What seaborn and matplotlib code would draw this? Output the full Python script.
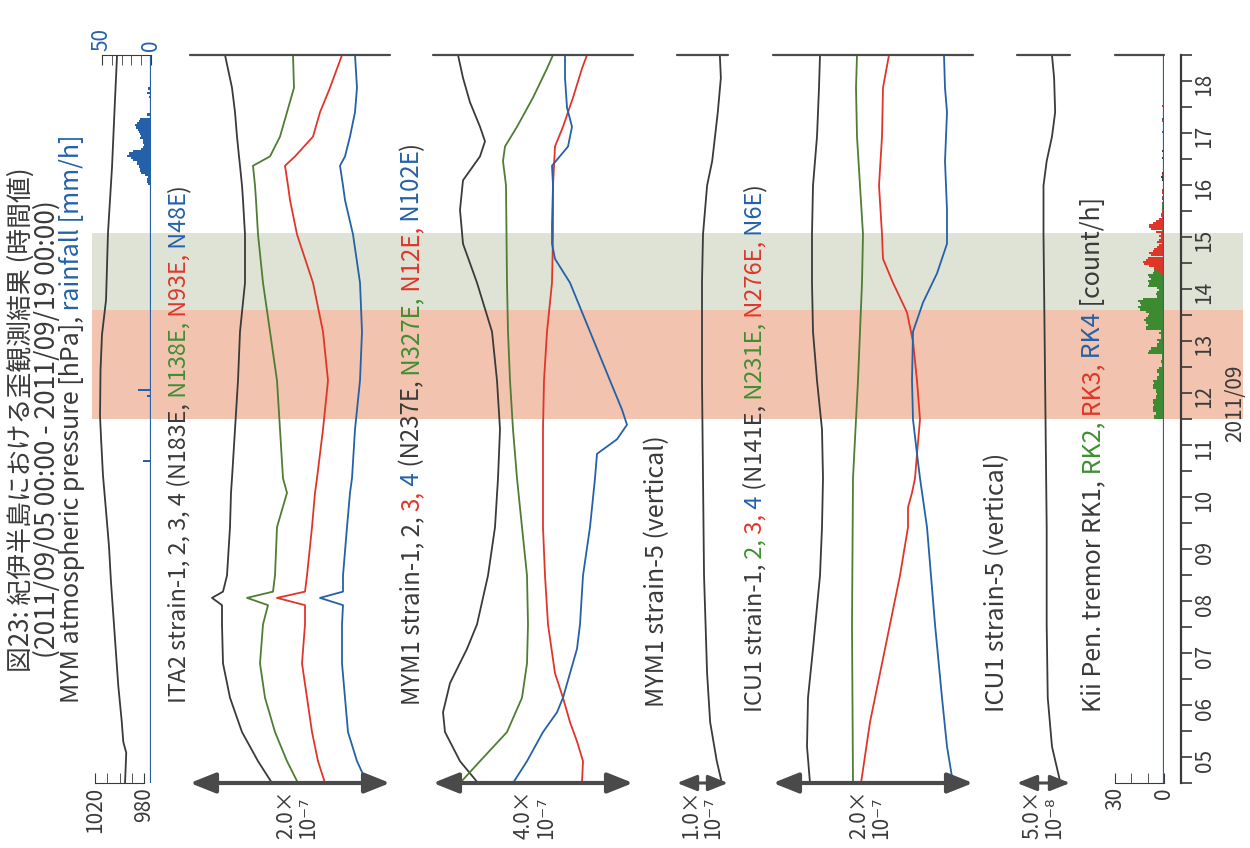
import matplotlib
matplotlib.use("Agg")
import matplotlib.pyplot as plt
import numpy as np
import seaborn as sns

sns.set_style("ticks")
plt.rcParams["font.family"] = ["Noto Sans CJK JP", "DejaVu Sans"]

W, H = 1250, 848
Y0, Y1 = 783, 55          # pixel rows of 09/05 00:00 and 09/19 00:00
K, G, R, B = "#3a3a3a", "#4f7d34", "#e0362a", "#2461a8"
GT = "#3f8f33"            # green used in text
AX = "#4a4a4a"

# ---- data (time in days since 2011/09/05 00:00) ----
day_labels = ["05", "06", "07", "08", "09", "10", "11", "12", "13", "14", "15", "16", "17", "18"]

pres_t = [0.0, 0.58, 0.79, 1.19, 1.87, 2.54, 3.21, 3.88, 4.56, 5.23, 5.92, 6.60, 7.06, 7.94, 8.62, 9.29, 10.58, 11.85, 13.13, 14.0]
pres_hpa = [995.5, 994.5, 996.9, 998.2, 1001.0, 1003.0, 1005.0, 1007.0, 1008.6, 1011.0, 1013.5, 1015.0, 1015.9, 1015.5, 1014.3, 1011.0, 1009.4, 1006.1, 1003.7, 1002.0]

# hourly rainfall, hour index since 09/05 00:00
rain_h = [148, 178, 181] + list(range(276, 307)) + [308, 316, 318, 320]
rain_mm = [8, 4, 13, 3, 4, 4, 3, 6, 10, 11, 11, 12, 14, 14, 18, 20, 24, 22, 18, 10, 8, 7, 8, 8,
           11, 10, 11, 12, 13, 15, 16, 14, 12, 11, 4, 2, 4, 3]

# ITA2 strain (x1e-7)
ita_t = [0, 0.42, 0.98, 1.64, 2.30, 3.05, 3.42, 3.56, 3.68, 3.99, 4.92, 5.58, 5.86, 6.80, 7.74, 8.68,
         9.62, 10.55, 11.21, 11.49, 11.87, 12.05, 12.43, 12.90, 13.37, 14.0]
ita_1 = [0.82, 0.68, 0.52, 0.40, 0.33, 0.32, 0.32, 0.22, 0.33, 0.37, 0.40, 0.41, 0.42, 0.45, 0.48, 0.50,
         0.55, 0.55, 0.53, 0.52, 0.50, 0.49, 0.47, 0.45, 0.42, 0.35]
ita_2 = [1.08, 0.97, 0.85, 0.75, 0.70, 0.73, 0.78, 0.57, 0.83, 0.85, 0.87, 0.97, 0.93, 0.90, 0.87, 0.80,
         0.73, 0.68, 0.66, 0.65, 0.63, 0.80, 0.90, 0.97, 1.04, 1.03]
ita_3 = [1.35, 1.28, 1.22, 1.17, 1.12, 1.15, 1.15, 0.87, 1.15, 1.17, 1.22, 1.25, 1.27, 1.33, 1.38, 1.33,
         1.23, 1.07, 1.00, 0.98, 0.95, 1.05, 1.23, 1.30, 1.40, 1.52]
ita_4 = [1.77, 1.67, 1.58, 1.55, 1.52, 1.52, 1.53, 1.30, 1.53, 1.53, 1.57, 1.60, 1.62, 1.65, 1.70, 1.72,
         1.70, 1.63, 1.55, 1.53, 1.50, 1.55, 1.60, 1.65, 1.67, 1.65]

# MYM1 strain (x1e-7)
mym1_t = [0, 0.42, 0.98, 1.36, 1.92, 2.58, 3.05, 3.99, 4.92, 5.86, 6.80, 7.74, 8.68, 9.62, 10.37, 11.02,
          11.59, 12.05, 12.34, 12.62, 13.09, 13.56, 14.0]
mym1_1 = [0.90, 0.54, 0.24, 0.20, 0.34, 0.68, 0.88, 1.10, 1.24, 1.30, 1.34, 1.28, 1.18, 0.88, 0.60, 0.54,
          0.60, 0.94, 1.04, 0.94, 0.74, 0.60, 0.50]
mym2_t = [0, 0.42, 0.98, 1.64, 2.30, 3.05, 3.99, 4.92, 5.86, 6.80, 7.74, 8.68, 9.62, 10.55, 11.49, 11.96,
          12.24, 12.62, 13.18, 13.74, 14.0]
mym1_2 = [0.54, 0.94, 1.48, 1.78, 1.88, 1.90, 1.88, 1.78, 1.68, 1.60, 1.54, 1.50, 1.48, 1.47, 1.46, 1.40,
          1.44, 1.68, 2.00, 2.28, 2.40]
mym3_t = [0, 0.42, 0.80, 1.17, 1.64, 2.11, 3.05, 3.99, 4.92, 6.80, 7.74, 8.68, 9.62, 10.55, 11.49, 12.24,
          12.62, 13.18, 13.74, 14.0]
mym1_3 = [2.98, 3.00, 2.88, 2.74, 2.60, 2.44, 2.30, 2.24, 2.20, 2.20, 2.22, 2.28, 2.38, 2.40, 2.40, 2.44,
          2.60, 2.80, 2.98, 3.08]
mym4_t = [0, 0.42, 0.98, 1.36, 1.64, 2.11, 2.58, 3.05, 3.99, 4.92, 5.86, 6.33, 6.61, 6.89, 7.18, 7.74,
          8.68, 9.62, 10.08, 10.37, 10.74, 11.49, 11.87, 12.24, 12.62, 12.99, 13.56, 14.0]
mym1_4 = [1.60, 1.88, 2.20, 2.48, 2.60, 2.74, 2.88, 2.94, 3.00, 3.14, 3.24, 3.28, 3.68, 3.88, 3.78, 3.54,
          3.14, 2.74, 2.44, 2.38, 2.38, 2.40, 2.38, 2.70, 2.78, 2.68, 2.64, 2.64]
mym5_t = [0, 0.42, 1.17, 2.11, 3.99, 5.86, 7.74, 9.62, 10.55, 11.49, 11.96, 12.90, 13.56, 14.0]
mym1_5 = [0.88, 0.78, 0.65, 0.59, 0.53, 0.51, 0.49, 0.49, 0.51, 0.59, 0.69, 0.80, 0.86, 0.84]

# ICU1 strain (x1e-7)
icu1_t = [0, 0.70, 1.64, 2.58, 3.99, 4.92, 5.86, 6.80, 7.74, 8.68, 9.62, 10.55, 11.49, 12.43, 13.37, 14.0]
icu1_1 = [0.37, 0.34, 0.35, 0.40, 0.47, 0.49, 0.50, 0.49, 0.44, 0.40, 0.39, 0.39, 0.40, 0.44, 0.46, 0.47]
icu2_t = [0, 3.05, 5.86, 7.74, 9.62, 10.55, 11.49, 12.43, 13.37, 14.0]
icu1_2 = [0.80, 0.79, 0.80, 0.85, 0.89, 0.90, 0.87, 0.84, 0.83, 0.84]
icu3_t = [0, 1.17, 2.11, 3.05, 3.99, 4.92, 5.30, 5.58, 5.86, 6.33, 6.99, 7.74, 8.49, 9.05, 9.62, 10.08,
          10.55, 11.49, 12.43, 13.37, 14.0]
icu1_3 = [0.88, 0.97, 1.07, 1.17, 1.27, 1.35, 1.35, 1.39, 1.42, 1.44, 1.47, 1.44, 1.40, 1.34, 1.20, 1.10,
          1.09, 1.06, 1.09, 1.10, 1.16]
icu4_t = [0, 0.70, 1.64, 3.05, 4.92, 5.86, 6.33, 6.99, 7.74, 8.68, 9.24, 9.80, 10.37, 11.02, 11.96, 12.90,
          13.37, 14.0]
icu1_4 = [1.80, 1.74, 1.69, 1.62, 1.54, 1.47, 1.44, 1.40, 1.39, 1.40, 1.50, 1.64, 1.74, 1.74, 1.72, 1.74,
          1.72, 1.71]
icu5_t = [0, 0.70, 1.64, 3.05, 4.92, 6.80, 8.68, 10.55, 11.49, 11.96, 12.43, 12.90, 13.56, 14.0]
icu1_5 = [0.41, 0.33, 0.29, 0.28, 0.28, 0.27, 0.26, 0.25, 0.25, 0.28, 0.33, 0.36, 0.35, 0.33]

# tremor counts per hour, hour index since 09/12 00:00
rk2_n = [6, 6, 5, 7, 7, 7, 6, 7, 7, 5, 5, 4, 5, 5, 7, 7, 6, 7, 4, 4, 3, 4, 4, 3, 1, 1, 2, 1, 1, 1,
         10, 9, 8, 4, 4, 3, 4, 2, 2, 3, 2, 11, 11, 10, 11, 12, 11, 10, 9, 11, 15, 16, 14, 15, 16, 13,
         4, 5, 4, 3, 4, 10, 9, 10, 8, 9, 10, 7, 6, 3, 2, 2, 1, 1, 0, 2, 1, 0, 1, 2, 1, 0, 0, 1, 0, 2, 1,
         2, 2, 1, 1, 0, 1, 2, 2, 1, 0, 1, 1]
rk3_start = 66
rk3_n = [2, 3, 4, 6, 9, 12, 13, 11, 10, 8, 9, 7, 6, 4, 3, 4, 3, 2, 3, 2, 5, 8, 9, 9, 7, 5, 3, 2, 2, 1,
         1, 0, 0, 1, 0, 0, 1, 0, 1, 1]
rk3_late_h = [112, 137, 144]
rk3_late_n = [1, 1, 1]
rk1_h = [110, 111, 113, 120, 123]
rk1_n = [1, 2, 1, 1, 1]
rk4_h = [101, 132, 138]
rk4_n = [1, 1, 1]

fig = plt.figure(figsize=(12.5, 8.48), dpi=100)
fig.patch.set_facecolor("white")


def rect(x0, x1):
    return [x0 / W, 1 - Y0 / H, (x1 - x0) / W, (Y0 - Y1) / H]


def panel(x0, x1):
    ax = fig.add_axes(rect(x0, x1))
    ax.set_ylim(0, 14)
    ax.patch.set_alpha(0)
    return ax


def strain(x0, x1, scale, traces, head=22):
    ax = panel(x0, x1)
    for t, v, c in traces:
        sns.lineplot(x=v, y=t, sort=False, estimator=None, color=c, lw=1.3, ax=ax)
    ax.set_xlim(0, scale)
    ax.set_ylim(0, 14)
    ax.axis("off")
    ax.axhline(14, color=AX, lw=1.6, clip_on=False)
    ax.annotate("", xy=(scale, 0), xytext=(0, 0), annotation_clip=False,
                arrowprops=dict(arrowstyle="<|-|>,head_length=0.7,head_width=0.28", color=AX,
                                lw=3 if head > 20 else 2.2, shrinkA=0, shrinkB=0, mutation_scale=head))
    return ax


# shaded periods
bg = fig.add_axes(rect(92, 1243))
bg.set_ylim(0, 14)
bg.axhspan(7.0, 9.1, color="#f2c3ae", lw=0)
bg.axhspan(9.1, 10.58, color="#dfe3d6", lw=0)
bg.axis("off")

# pressure + rainfall
axp = panel(95, 151)
sns.lineplot(x=pres_hpa, y=pres_t, sort=False, estimator=None, color=K, lw=1.3, ax=axp)
axp.set_xlim(1020, 974.3)
axp.set_ylim(0, 14)
for s in ["left", "right", "top"]:
    axp.spines[s].set_visible(False)
axp.spines["bottom"].set_bounds(980, 1020)
axp.spines["bottom"].set_color(K)
axp.set_xticks([1020, 980])
axp.set_xticks([1010, 1000, 990], minor=True)
axp.set_yticks([])
axp.set_xlabel("")
axp.tick_params(axis="x", which="both", direction="in", length=7, color=K, labelsize=15,
                labelrotation=90, labelcolor=K, pad=3)

axr = axp.twiny()
axr.set_xlim(57.1, 0)
axr.barh([(h + 0.5) / 24 for h in rain_h], rain_mm, height=1 / 24, left=0, color=B, lw=0)
axr.axvline(0, color=B, lw=1.6)
for s in ["left", "right", "bottom"]:
    axr.spines[s].set_visible(False)
axr.spines["top"].set_bounds(0, 50)
axr.spines["top"].set_color(K)
axr.set_xticks([50, 0])
axr.set_xticks([40, 30, 20, 10], minor=True)
axr.tick_params(axis="x", which="both", direction="in", length=7, color=K, top=True, bottom=False,
                labeltop=True, labelbottom=False, labelsize=15, labelrotation=90, labelcolor=B, pad=3)
axr.set_ylim(0, 14)

# strain panels
strain(190, 390, 2.0, [(ita_t, ita_1, K), (ita_t, ita_2, G), (ita_t, ita_3, R), (ita_t, ita_4, B)])
strain(433, 633, 4.0, [(mym1_t, mym1_1, K), (mym2_t, mym1_2, G), (mym3_t, mym1_3, R), (mym4_t, mym1_4, B)])
strain(677, 728, 1.0, [(mym5_t, mym1_5, K)], head=17)
strain(773, 973, 2.0, [(icu1_t, icu1_1, K), (icu2_t, icu1_2, G), (icu3_t, icu1_3, R), (icu4_t, icu1_4, B)])
strain(1017, 1070, 0.5, [(icu5_t, icu1_5, K)], head=17)

# tremor counts
axt = panel(1115, 1164)
axt.barh([7 + (h + 0.5) / 24 for h in range(len(rk2_n))], rk2_n, height=1 / 24, left=0, color="#3d8a30", lw=0)
axt.barh([7 + (rk3_start + h + 0.5) / 24 for h in range(len(rk3_n))], rk3_n, height=1 / 24, left=0, color=R, lw=0)
axt.barh([7 + (h + 0.5) / 24 for h in rk3_late_h], rk3_late_n, height=1 / 24, left=0, color=R, lw=0)
axt.barh([7 + (h + 0.5) / 24 for h in rk1_h], rk1_n, height=1 / 24, left=0, color=K, lw=0)
axt.barh([7 + (h + 0.5) / 24 for h in rk4_h], rk4_n, height=1 / 24, left=0, color=B, lw=0)
axt.axvline(0, color=B, lw=1.6)
axt.set_xlim(30, 0)
axt.set_ylim(0, 14)
for s in ["left", "right", "top"]:
    axt.spines[s].set_visible(False)
axt.spines["bottom"].set_bounds(0, 30)
axt.spines["bottom"].set_color(K)
axt.axhline(14, color=AX, lw=1.6, clip_on=False)
axt.set_xticks([30, 0])
axt.set_xticks([20, 10], minor=True)
axt.set_yticks([])
axt.tick_params(axis="x", which="both", direction="in", length=7, color=K, labelsize=15,
                labelrotation=90, labelcolor=K, pad=3)

# date axis
axd = panel(1170, 1181)
for s in ["left", "top", "bottom"]:
    axd.spines[s].set_visible(False)
axd.spines["right"].set_color(K)
axd.spines["right"].set_linewidth(1.6)
axd.yaxis.tick_right()
axd.set_xticks([])
axd.set_yticks(range(15))
axd.set_yticklabels([])
axd.set_yticks(np.arange(0.5, 14, 1), minor=True)
axd.set_yticklabels(day_labels, minor=True)
axd.tick_params(axis="y", which="both", direction="out", length=8, width=1.2, color=K,
                right=True, left=False)
axd.tick_params(axis="y", which="minor", labelright=True, labelsize=15, labelrotation=90,
                labelcolor=K, pad=1)
fig.text(1235 / W, 1 - 403 / H, "2011/09", rotation=90, ha="center", va="center", fontsize=15, color=K)


def rainbow(x, y, parts, size=18):
    r = fig.canvas.get_renderer()
    pos = 1 - y / H
    for s, c in parts:
        txt = fig.text(x / W, pos, s, color=c, fontsize=size, rotation=90, ha="center", va="bottom")
        pos = txt.get_window_extent(r).y1 / fig.bbox.height


rainbow(21, 672, [("図23: 紀伊半島における歪観測結果 (時間値)", K)], 18.6)
rainbow(47, 658, [("(2011/09/05 00:00 - 2011/09/19 00:00)", K)], 19)
rainbow(72, 703, [("MYM atmospheric pressure [hPa],", K), (" rainfall [mm/h]", B)], 18)
rainbow(179, 703, [("ITA2 strain-1, 2, 3, 4 (N183E,", K), (" N138E,", GT), (" N93E,", R), (" N48E", B), (")", K)], 16.8)
rainbow(412, 705, [("MYM1 strain-1, 2, ", K), ("3,", R), (" 4", B), (" (N237E,", K), (" N327E,", GT),
                   (" N12E,", R), (" N102E", B), (")", K)], 17.3)
rainbow(657, 707, [("MYM1 strain-5 (vertical)", K)], 18)
rainbow(755, 712, [("ICU1 strain-1,", K), (" 2,", GT), (" 3,", R), (" 4", B), (" (N141E,", K), (" N231E,", GT),
                   (" N276E,", R), (" N6E", B), (")", K)], 17)
rainbow(997, 712, [("ICU1 strain-5 (vertical)", K)], 18)
rainbow(1093, 712, [("Kii Pen. tremor RK1,", K), (" RK2,", GT), (" RK3,", R), (" RK4", B), (" [count/h]", K)], 18)

# scale labels under the arrows
for x, s in [(297, "2.0×\n10⁻⁷"), (535, "4.0×\n10⁻⁷"), (702, "1.0×\n10⁻⁷"), (870, "2.0×\n10⁻⁷"),
             (1043, "5.0×\n10⁻⁸")]:
    fig.text(x / W, 1 - 814 / H, s, rotation=90, ha="center", va="center", multialignment="left",
             fontsize=15, color=K, linespacing=1.0)

fig.savefig("out.png", dpi=100, facecolor="white")
